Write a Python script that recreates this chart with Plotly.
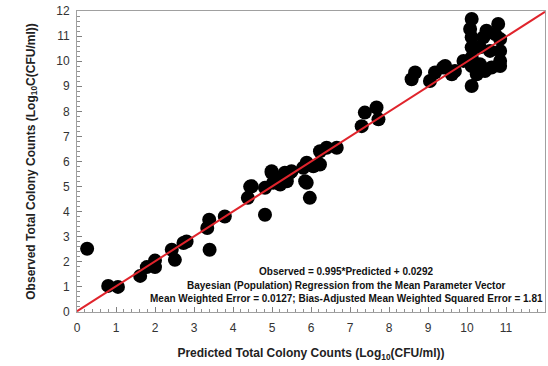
import plotly.graph_objects as go

# Predicted (x) and observed (y) log10 counts
predicted = [0.26, 0.80, 1.05, 1.62, 1.79, 2.00, 2.00, 2.43, 2.51, 2.73, 2.81,
             3.40, 3.39, 3.34, 3.79, 4.38, 4.44, 4.48, 4.82, 4.82, 4.99, 5.03,
             5.16, 5.33, 5.46, 5.50, 5.21, 5.38, 5.80, 5.89, 5.85, 5.89, 5.97,
             6.06, 6.23, 6.23, 6.40, 6.66, 7.30, 7.38, 7.68, 7.73, 8.58, 8.67,
             9.05, 9.18, 9.39, 9.44, 9.61, 9.69, 9.91, 10.12, 10.08, 10.12,
             10.12, 10.12, 10.12, 10.12, 10.25, 10.33, 10.33, 10.42, 10.46,
             10.50, 10.59, 10.63, 10.72, 10.80, 10.85, 10.85, 10.85, 10.85, 4.99]
observed = [2.52, 1.04, 1.00, 1.44, 1.79, 2.05, 1.79, 2.48, 2.08, 2.75, 2.81,
            2.48, 3.68, 3.35, 3.81, 4.55, 5.00, 5.01, 3.88, 4.95, 5.61, 5.15,
            5.35, 5.55, 5.55, 5.61, 5.08, 5.21, 5.75, 5.95, 5.21, 5.15, 4.55,
            5.81, 5.88, 6.41, 6.55, 6.55, 7.41, 7.95, 8.15, 7.68, 9.28, 9.55,
            9.21, 9.55, 9.75, 9.81, 9.48, 9.61, 10.01, 11.68, 11.28, 10.95,
            10.55, 10.15, 9.81, 9.01, 9.48, 10.55, 9.88, 10.95, 9.61,
            11.21, 10.41, 9.75, 11.08, 11.48, 10.88, 10.41, 10.01, 9.81, 5.55]

slope = 0.995
intercept = 0.0292
line_x = [0, 12]
line_y = [slope * v + intercept for v in line_x]

x_ticks = list(range(0, 13))
y_ticks = list(range(0, 13))

annotation_lines = [
    "Observed = 0.995*Predicted + 0.0292",
    "Bayesian (Population) Regression from the Mean Parameter Vector",
    "Mean Weighted Error = 0.0127; Bias-Adjusted Mean Weighted Squared Error = 1.81",
]

fig = go.Figure()
fig.add_trace(go.Scatter(x=predicted, y=observed, mode="markers",
                         marker=dict(color="black", size=14, line=dict(width=0)),
                         showlegend=False, cliponaxis=False))
fig.add_trace(go.Scatter(x=line_x, y=line_y, mode="lines",
                         line=dict(color="#e0242c", width=2),
                         showlegend=False))

axis_common = dict(
    showgrid=False, zeroline=False, showline=True, linecolor="#a0a0a0",
    linewidth=1, mirror=True, ticks="inside", ticklen=5, tickcolor="#808080",
    tickwidth=1, tickfont=dict(family="Liberation Sans, Arial", size=12, color="#333333"),
    minor=dict(ticks="inside", ticklen=3, tickcolor="#909090", dtick=0.2, showgrid=False),
)

fig.update_xaxes(range=[0, 12], tickvals=x_ticks, ticktext=[str(v) for v in x_ticks],
                 ticklabelstandoff=5,
                 title=dict(text="<b>Predicted Total Colony Counts (Log<sub>10</sub>(CFU/ml))</b>",
                            font=dict(family="Liberation Sans, Arial", size=12, color="#222222"),
                            standoff=14),
                 **axis_common)
fig.update_yaxes(range=[0, 12], tickvals=y_ticks, ticktext=[str(v) for v in y_ticks],
                 ticklabelstandoff=4,
                 title=dict(text="<b>Observed Total Colony Counts (Log<sub>10</sub>C(CFU/ml))</b>",
                            font=dict(family="Liberation Sans, Arial", size=12, color="#222222"),
                            standoff=18),
                 **axis_common)

for i, txt in enumerate(annotation_lines):
    fig.add_annotation(x=6.9, y=1.6 - i * 0.53, xref="x", yref="y",
                       text="<b>" + txt + "</b>", showarrow=False,
                       xanchor="center", yanchor="middle",
                       font=dict(family="Liberation Sans, Arial", size=10, color="#111111"))

fig.update_layout(
    width=548, height=366,
    margin=dict(l=77, r=3, t=11, b=54),
    paper_bgcolor="white", plot_bgcolor="white",
    font=dict(family="Liberation Sans, Arial"),
)

fig.write_html("out.html")
